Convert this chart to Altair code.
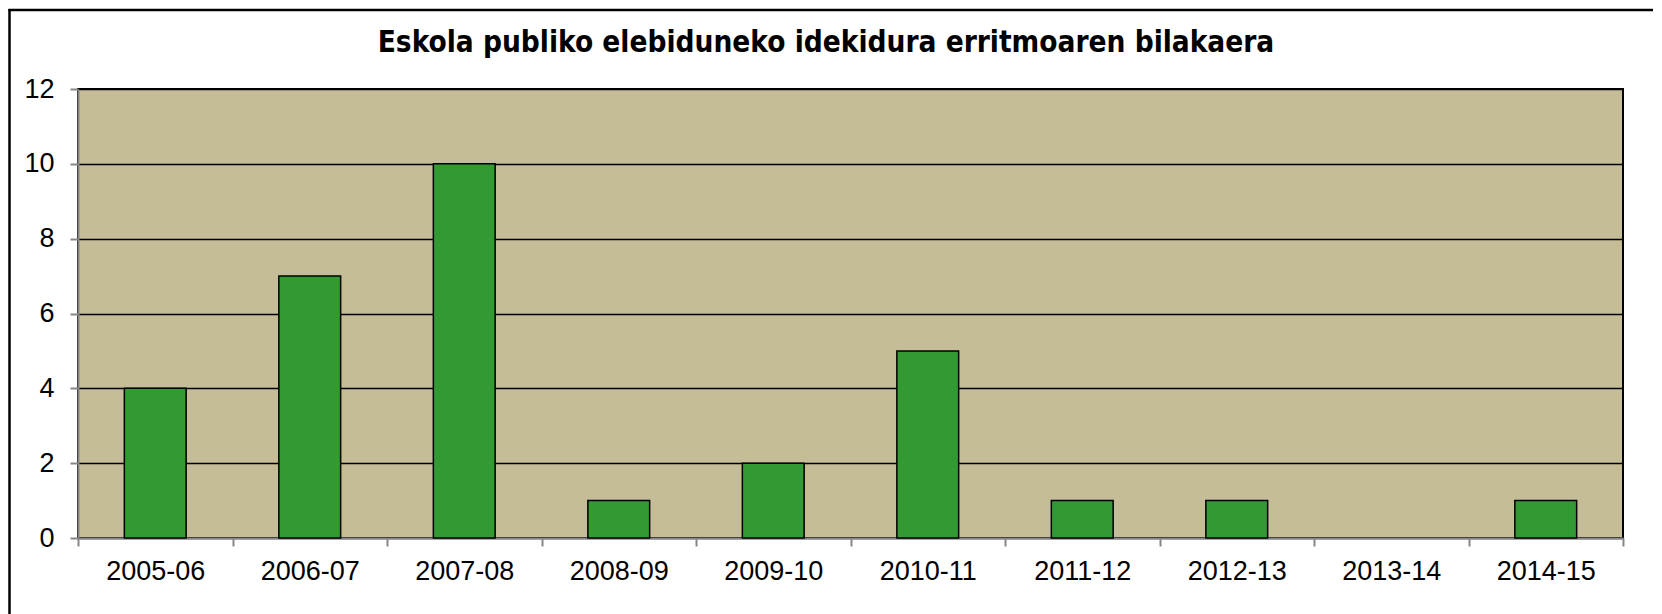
import altair as alt
import pandas as pd

seasons = ["2005-06", "2006-07", "2007-08", "2008-09", "2009-10",
           "2010-11", "2011-12", "2012-13", "2013-14", "2014-15"]
openings = [4, 7, 10, 1, 2, 5, 1, 1, 0, 1]
y_ticks = [0, 2, 4, 6, 8, 10, 12]
title_text = "Eskola publiko elebiduneko idekidura erritmoaren bilakaera"

df = pd.DataFrame({"season": seasons, "n": openings})

W, H = 1545, 449

bars = alt.Chart(df).mark_bar(
    width=alt.RelativeBandSize(0.4), color="#339933", stroke="black", strokeWidth=1.5
).encode(
    x=alt.X("season:N", sort=seasons, title=None,
            scale=alt.Scale(domain=seasons, paddingInner=0, paddingOuter=0),
            axis=alt.Axis(labelAngle=0, tickBand="extent", grid=False,
                          domainColor="#868686", domainWidth=2,
                          tickColor="#868686", tickWidth=2, tickSize=8,
                          labelFont="Liberation Sans", labelFontSize=27,
                          labelColor="black", labelPadding=12)),
    y=alt.Y("n:Q", title=None,
            scale=alt.Scale(domain=[0, 12], nice=False),
            axis=alt.Axis(values=y_ticks, grid=True, gridColor="black", gridWidth=1.5,
                          gridOpacity=1,
                          domainColor="#868686", domainWidth=2,
                          tickColor="#868686", tickWidth=2, tickSize=8,
                          labelFont="Liberation Sans", labelFontSize=27,
                          labelColor="black", labelPadding=16)),
).transform_filter("datum.n > 0")

one = pd.DataFrame({"a": [0]})
frame_top = alt.Chart(one).mark_rule(color="black", strokeWidth=2.5, clip=False).encode(
    x=alt.value(-69.5), x2=alt.value(W + 200), y=alt.value(-79)
)
frame_left = alt.Chart(one).mark_rule(color="black", strokeWidth=2.5, clip=False).encode(
    x=alt.value(-68.5), y=alt.value(-80), y2=alt.value(H + 200)
)

title = alt.Chart(pd.DataFrame({"t": [title_text]})).mark_text(
    font="DejaVu Sans Condensed", fontSize=29.5, fontWeight="bold", color="black",
    align="center", baseline="alphabetic", clip=False
).encode(
    text="t:N", x=alt.value(748), y=alt.value(-37)
)

chart = alt.layer(frame_top, frame_left, bars, title).properties(
    width=W, height=H,
    padding={"left": 70, "top": 81, "right": 30, "bottom": 76},
    autosize=alt.AutoSizeParams(type="none"),
    background="white",
).configure_view(
    fill="#C4BD97", stroke="black", strokeWidth=2
)

chart.save("out.html", embed_options={"renderer": "svg", "actions": False})
